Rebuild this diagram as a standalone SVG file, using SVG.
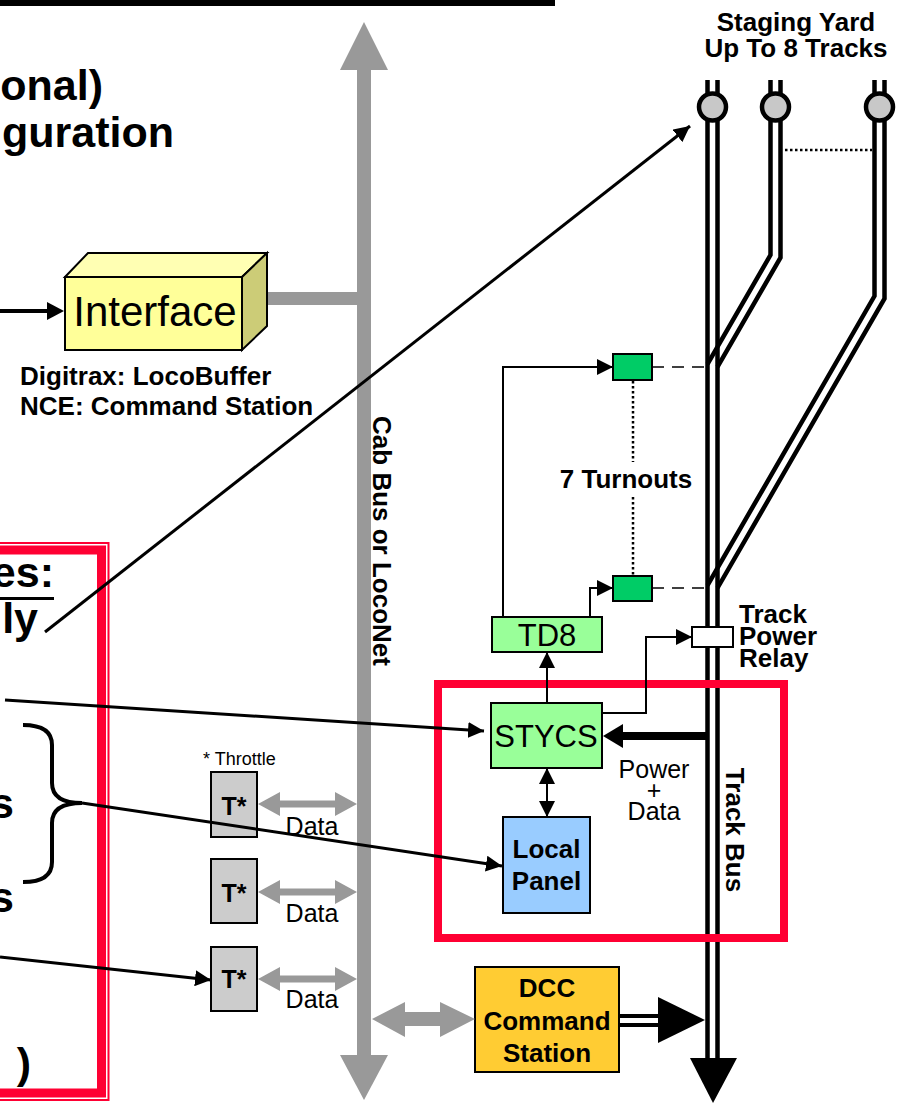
<svg xmlns="http://www.w3.org/2000/svg" width="909" height="1103" viewBox="0 0 909 1103">
<style>
text{font-family:"Liberation Sans",Arial,sans-serif;fill:#000}
.b{font-weight:bold}
.big{font-size:43px;font-weight:bold}
.lab{font-size:26px;font-weight:bold}
.box{stroke:#000;stroke-width:2}
.rail{fill:none;stroke:#000;stroke-width:4.5;stroke-linejoin:miter}
.thin{fill:none;stroke:#000;stroke-width:2}
.conn{fill:none;stroke:#000;stroke-width:3}
.gray{fill:#999999}
.red{fill:none;stroke:#FF0033}
</style>
<defs>
<marker id="ah" viewBox="0 0 16 16" refX="16" refY="8" markerWidth="16" markerHeight="16" markerUnits="userSpaceOnUse" orient="auto-start-reverse">
<path d="M0,0 L16,8 L0,16 z" fill="#000"/>
</marker>
</defs>
<rect width="909" height="1103" fill="#fff"/>

<g id="title">
<rect x="0" y="0" width="555" height="6" fill="#000"/>
<text class="big" x="103" y="100" text-anchor="end">onal)</text>
<text class="big" x="174" y="147" text-anchor="end" font-size="42">iguration</text>
</g>

<g id="bus">
<rect class="gray" x="357" y="68" width="14" height="990"/>
<polygon class="gray" points="340,70 388,70 364,22"/>
<polygon class="gray" points="340,1055 388,1055 364,1100"/>
<rect class="gray" x="256" y="292" width="102" height="13"/>
<text class="lab" transform="translate(373,541) rotate(90)" text-anchor="middle">Cab Bus or LocoNet</text>
</g>

<g id="interface">
<polygon points="65,277 88,253 267,253 242,277" fill="#FFFFB3" stroke="#000" stroke-width="2"/>
<polygon points="242,277 267,253 267,326 242,350" fill="#CCCC77" stroke="#000" stroke-width="2"/>
<rect x="65" y="277" width="177" height="73" fill="#FFFF99" stroke="#000" stroke-width="2"/>
<text x="155" y="326" text-anchor="middle" font-size="42">Interface</text>
<text class="lab" x="20" y="385">Digitrax: LocoBuffer</text>
<text class="lab" x="20" y="415">NCE: Command Station</text>
</g>

<g id="staging">
<text class="lab" x="796" y="31" text-anchor="middle">Staging Yard</text>
<text class="lab" x="796" y="57" text-anchor="middle">Up To 8 Tracks</text>
<path class="rail" d="M707.5,80 V1060 M717.5,80 V1060"/>
<path class="rail" d="M770.5,80 V255 L707.5,364.1 M780.5,80 V257.7 L717.5,366.8"/>
<path class="rail" d="M874.5,80 V296 L707.5,585.3 M884.5,80 V298.7 L717.5,588"/>
<circle cx="712.5" cy="107" r="13.5" fill="#C8C8C8" stroke="#000" stroke-width="4.5"/>
<circle cx="775.5" cy="107" r="13.5" fill="#C8C8C8" stroke="#000" stroke-width="4.5"/>
<circle cx="879.5" cy="107" r="13.5" fill="#C8C8C8" stroke="#000" stroke-width="4.5"/>
<path d="M785,150 H872" stroke="#000" stroke-width="2.5" stroke-dasharray="2.5 2.5" fill="none"/>
<polygon points="690,1058 737,1058 713,1103" fill="#000"/>
</g>

<g id="relay">
<rect x="692" y="627" width="41" height="20" fill="#fff" stroke="#000" stroke-width="2"/>
<text class="lab" x="739" y="623">Track</text>
<text class="lab" x="739" y="645">Power</text>
<text class="lab" x="739" y="667">Relay</text>
</g>

<g id="turnouts">
<rect x="613" y="354" width="39" height="26" fill="#00CC66" class="box"/>
<rect x="613" y="576" width="39" height="25" fill="#00CC66" class="box"/>
<text class="lab" x="626" y="488" text-anchor="middle">7 Turnouts</text>
</g>

<g id="td8">
<rect x="492" y="617" width="110" height="35" fill="#99FF99" class="box"/>
<text x="547" y="646" text-anchor="middle" font-size="31">TD8</text>
</g>

<g id="stycs-box">
<rect class="red" x="438" y="684" width="346" height="254" stroke-width="8"/>
<text class="lab" transform="translate(726,830) rotate(90)" text-anchor="middle">Track Bus</text>
</g>

<g id="stycs">
<rect x="491" y="703" width="111" height="65" fill="#99FF99" class="box"/>
<text x="546" y="747" text-anchor="middle" font-size="31">STYCS</text>
</g>

<g id="local-panel">
<rect x="503" y="817" width="87" height="96" fill="#99CCFF" class="box"/>
<text class="lab" x="546.5" y="858" text-anchor="middle">Local</text>
<text class="lab" x="546.5" y="890" text-anchor="middle">Panel</text>
</g>

<g id="power-data">
<text x="654" y="778" text-anchor="middle" font-size="25">Power</text>
<text x="654" y="799" text-anchor="middle" font-size="25">+</text>
<text x="654" y="820" text-anchor="middle" font-size="25">Data</text>
</g>

<g id="throttles">
<text x="203" y="765" font-size="18">* Throttle</text>
<rect x="211" y="772" width="46" height="65" fill="#CCCCCC" class="box"/>
<text x="234" y="815" text-anchor="middle" font-size="25" class="b">T*</text>
<rect x="211" y="859" width="46" height="64" fill="#CCCCCC" class="box"/>
<text x="234" y="902" text-anchor="middle" font-size="25" class="b">T*</text>
<rect x="211" y="947" width="46" height="64" fill="#CCCCCC" class="box"/>
<text x="234" y="988" text-anchor="middle" font-size="25" class="b">T*</text>
<text x="312" y="835" text-anchor="middle" font-size="25">Data</text>
<text x="312" y="922" text-anchor="middle" font-size="25">Data</text>
<text x="312" y="1008" text-anchor="middle" font-size="25">Data</text>
</g>

<g id="dcc">
<rect x="475" y="967" width="144" height="105" fill="#FFCC33" class="box"/>
<text class="lab" x="547" y="997" text-anchor="middle">DCC</text>
<text class="lab" x="547" y="1030" text-anchor="middle">Command</text>
<text class="lab" x="547" y="1062" text-anchor="middle">Station</text>
</g>

<g id="left-panel">
<path class="red" d="M-5,550 H101.5 V1093 H-5" stroke-width="9"/>
<path class="red" d="M-5,543 H108.5 V1100 H-5" stroke-width="2"/>
<text class="big" x="54" y="587" text-anchor="end" font-size="42">es:</text>
<rect x="0" y="597" width="54" height="3" fill="#000"/>
<text class="big" x="38" y="633" text-anchor="end" font-size="42">ly</text>
<text class="big" x="14" y="818" text-anchor="end" font-size="42">s</text>
<text class="big" x="14" y="912" text-anchor="end" font-size="42">s</text>
<text class="big" x="31" y="1078" text-anchor="end" font-size="52">)</text>
<path d="M23,725 Q52,725 52,745 V783 Q52,803 82,803 Q52,803 52,823 V862 Q52,882 23,882" fill="none" stroke="#000" stroke-width="4"/>
</g>

<g id="connectors">
<line x1="0" y1="311" x2="50" y2="311" stroke="#000" stroke-width="4"/>
<polygon points="47,302 64,311 47,320" fill="#000"/>
<path class="conn" d="M45,632 L690,126" marker-end="url(#ah)"/>
<path class="conn" d="M5,700 L484,731" marker-end="url(#ah)"/>
<path class="conn" d="M82,803 L502,866" marker-end="url(#ah)"/>
<path class="conn" d="M0,957 L211,980" marker-end="url(#ah)"/>
<path class="thin" d="M547,703 V652" marker-end="url(#ah)"/>
<path class="thin" d="M547,768 V817" marker-start="url(#ah)" marker-end="url(#ah)"/>
<path class="thin" d="M503,617 V367 H613" marker-end="url(#ah)"/>
<path class="thin" d="M590,617 V588 H613" marker-end="url(#ah)"/>
<path class="thin" d="M602,713 H646 V637 H692" marker-end="url(#ah)"/>
<path d="M652,367 H705 M652,588 H705" stroke="#000" stroke-width="1.5" stroke-dasharray="12 8" fill="none"/>
<path d="M633,381 V462 M633,497 V576" stroke="#000" stroke-width="2.5" stroke-dasharray="2.5 2.5" fill="none"/>
<line x1="707" y1="736" x2="622" y2="736" stroke="#000" stroke-width="8"/>
<polygon points="623,724 603,736 623,748" fill="#000"/>
<polygon class="gray" points="258,804 280,792 280,800.5 335,800.5 335,792 357,804 335,816 335,807.5 280,807.5 280,816"/>
<polygon class="gray" points="258,892 280,880 280,888.5 335,888.5 335,880 357,892 335,904 335,895.5 280,895.5 280,904"/>
<polygon class="gray" points="258,979 280,967 280,975.5 335,975.5 335,967 357,979 335,991 335,982.5 280,982.5 280,991"/>
<polygon class="gray" points="372,1019 405,1002 405,1012 440,1012 440,1002 475,1019 440,1037 440,1026 405,1026 405,1037"/>
<path d="M619,1016 H660 M619,1025 H660" stroke="#000" stroke-width="4" fill="none"/>
<polygon points="658,997 705,1020 658,1043" fill="#000"/>
</g>
</svg>
